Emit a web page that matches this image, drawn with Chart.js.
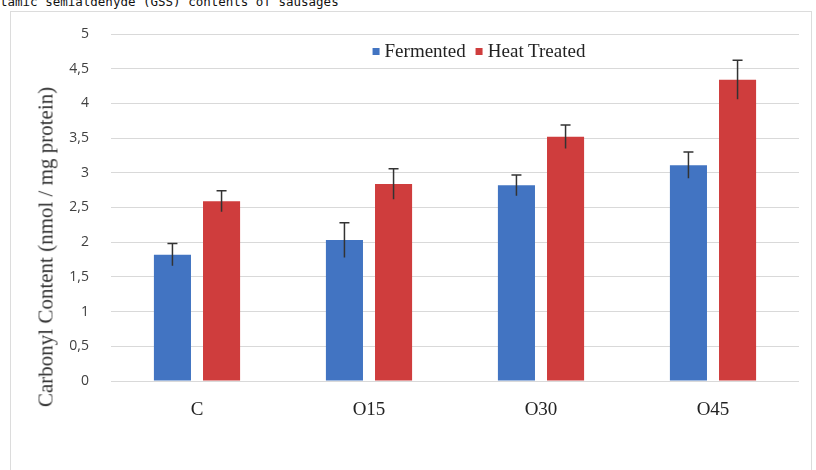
<!DOCTYPE html>
<html>
<head>
<meta charset="utf-8">
<script src="https://cdn.jsdelivr.net/npm/chart.js@4.4.0/dist/chart.umd.min.js"></script>
<style>
  body { margin: 0; background: #fff; }
  #wrap { position: relative; width: 816px; height: 470px; overflow: hidden; }
  #caption { position: absolute; left: 0; top: -6px; font: 12.5px "DejaVu Sans Mono", monospace; color: #111; white-space: nowrap; }
  #frame { position: absolute; left: 10px; top: 11px; width: 802px; height: 470px; border: 1px solid #dcdcdc; box-sizing: border-box; }
  #ytitle { position: absolute; left: 46px; top: 247px; transform: translate(-50%, -50%) rotate(-90deg); font: 21px "Liberation Serif", serif; color: #333; white-space: nowrap; }
  #legend { position: absolute; left: 479px; top: 51px; transform: translate(-50%, -50%); font: 19px "Liberation Serif", serif; color: #222; white-space: nowrap; }
  #legend span.box { display: inline-block; width: 7px; height: 7px; margin-right: 5px; vertical-align: 2px; }
  #legend span.item { margin: 0 5px; }
  canvas { position: absolute; left: 0; top: 0; }
</style>
</head>
<body>
<div id="wrap">
  <div id="caption">tamic semialdehyde (GSS) contents of sausages</div>
  <div id="frame"></div>
  <canvas id="chart" width="816" height="470"></canvas>
  <div id="ytitle">Carbonyl Content (nmol / mg protein)</div>
  <div id="legend"></div>
</div>
<script>
const categories = ["C", "O15", "O30", "O45"];
const seriesNames = ["Fermented", "Heat Treated"];
const fermented = [1.82, 2.03, 2.82, 3.11];
const fermentedErr = [0.16, 0.25, 0.15, 0.19];
const heatTreated = [2.59, 2.84, 3.52, 4.34];
const heatTreatedErr = [0.15, 0.22, 0.17, 0.28];
const colors = ["#4274c2", "#cf3d3d"];

const legend = document.getElementById("legend");
legend.innerHTML = seriesNames.map((n, i) =>
  `<span class="item"><span class="box" style="background:${colors[i]}"></span>${n}</span>`).join("");

const errorBars = {
  id: "errorBars",
  afterDatasetsDraw(chart) {
    const ctx = chart.ctx;
    const y = chart.scales.y;
    ctx.save();
    ctx.strokeStyle = "#333";
    ctx.lineWidth = 1.5;
    chart.data.datasets.forEach((ds, di) => {
      const meta = chart.getDatasetMeta(di);
      meta.data.forEach((bar, i) => {
        const v = ds.data[i], e = ds.errors[i];
        const top = y.getPixelForValue(v + e);
        const bot = y.getPixelForValue(v - e);
        ctx.beginPath();
        ctx.moveTo(bar.x, bot);
        ctx.lineTo(bar.x, top);
        ctx.moveTo(bar.x - 5, top);
        ctx.lineTo(bar.x + 5, top);
        ctx.stroke();
      });
    });
    ctx.restore();
  }
};

new Chart(document.getElementById("chart"), {
  type: "bar",
  data: {
    labels: categories,
    datasets: [
      { label: seriesNames[0], data: fermented, errors: fermentedErr, backgroundColor: colors[0] },
      { label: seriesNames[1], data: heatTreated, errors: heatTreatedErr, backgroundColor: colors[1] },
    ],
  },
  options: {
    responsive: false,
    animation: false,
    devicePixelRatio: 1,
    layout: { padding: { left: 0, right: 17, top: 34, bottom: 0 } },
    datasets: { bar: { categoryPercentage: 0.571, barPercentage: 0.755 } },
    plugins: { legend: { display: false }, tooltip: { enabled: false } },
    scales: {
      x: {
        grid: { display: false },
        border: { display: false },
        ticks: { color: "#222", padding: 10, font: { family: "Liberation Serif", size: 19 } },
        afterFit(s) { s.height = 89; },
      },
      y: {
        min: 0,
        max: 5,
        grid: { color: "#d9d9d9", drawTicks: false },
        border: { display: false },
        ticks: {
          stepSize: 0.5,
          padding: 22,
          color: "#404040",
          font: { family: "Open Sans", size: 14 },
          callback: (v) => String(v).replace(".", ","),
        },
        afterFit(s) { s.width = 111; },
      },
    },
  },
  plugins: [errorBars],
});
</script>
</body>
</html>
